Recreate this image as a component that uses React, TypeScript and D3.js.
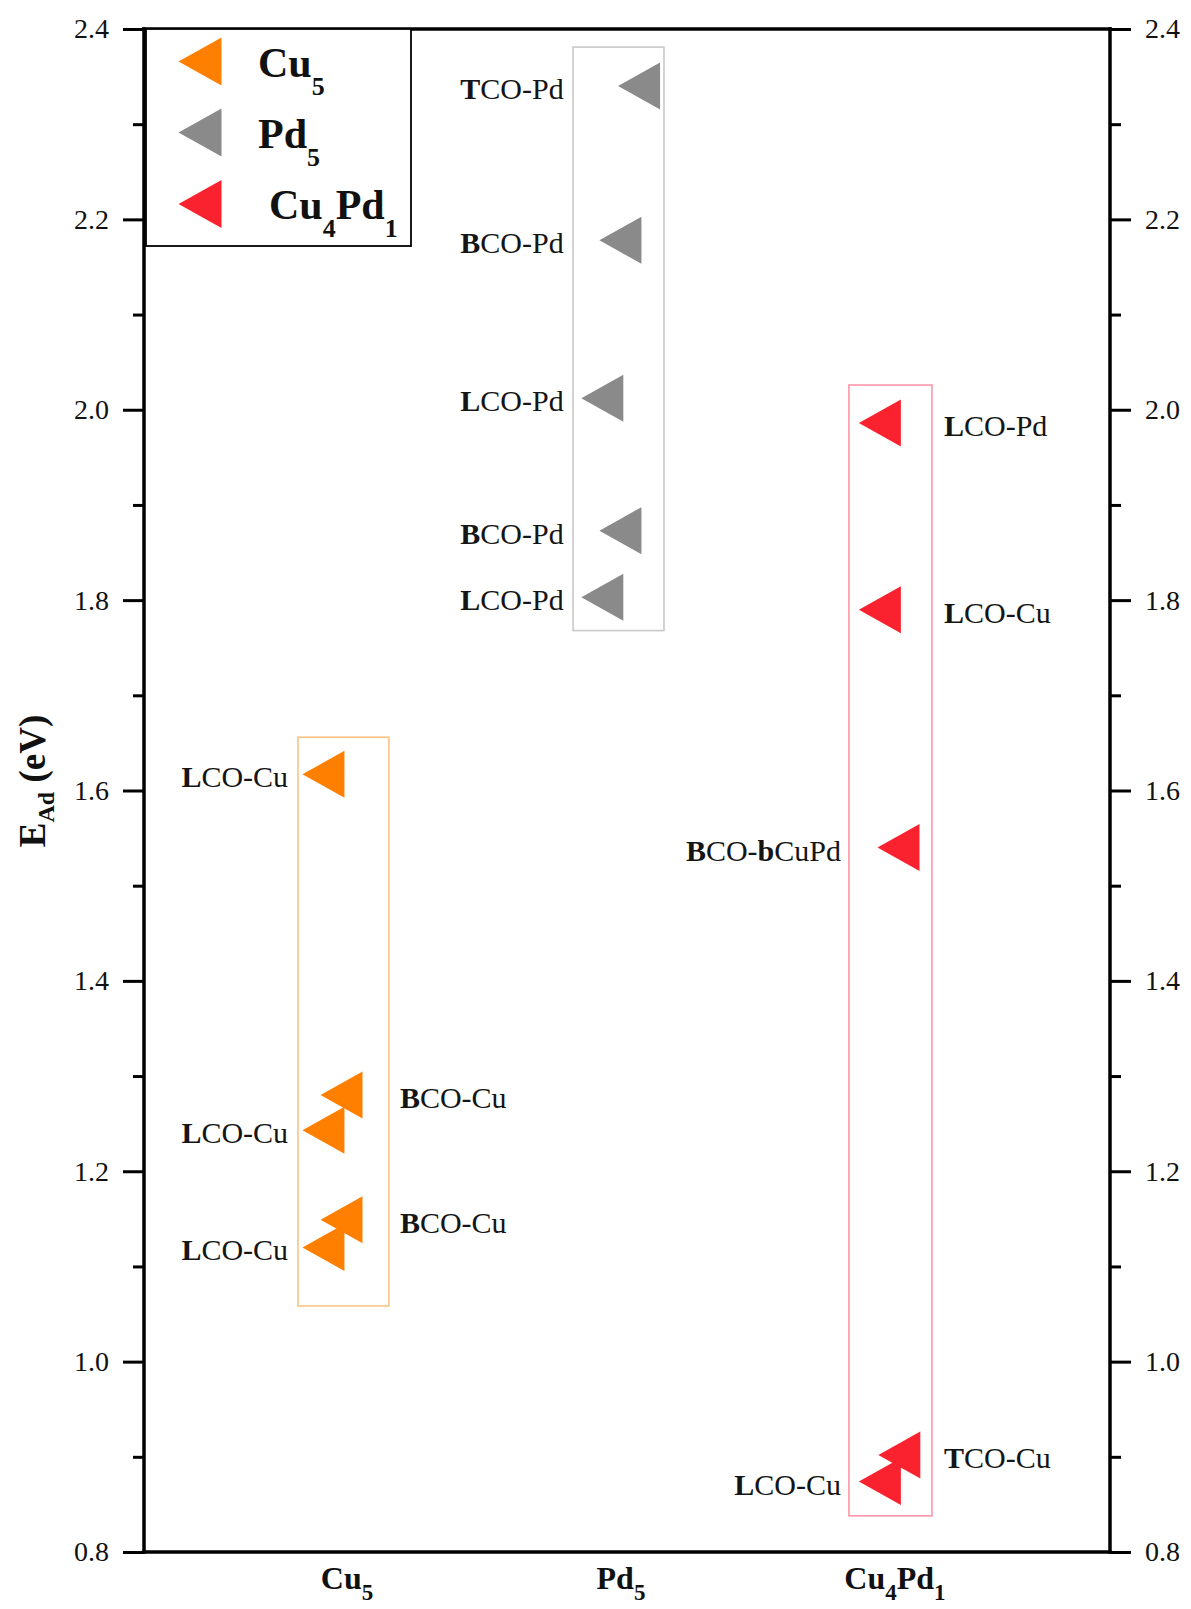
import React, { useEffect, useRef } from "react";
import * as d3 from "d3";

// ---- data ----
const categories = ["Cu5", "Pd5", "Cu4Pd1"];
const categoryPos = [1, 2, 3];
const majorTicks = [0.8, 1.0, 1.2, 1.4, 1.6, 1.8, 2.0, 2.2, 2.4];
const minorTicks = [0.9, 1.1, 1.3, 1.5, 1.7, 1.9, 2.1, 2.3];

const cu5Values = [1.617, 1.28, 1.243, 1.149, 1.12];
const cu5X = [0.914, 0.98, 0.914, 0.98, 0.914];
const cu5Labels = ["LCO-Cu", "BCO-Cu", "LCO-Cu", "BCO-Cu", "LCO-Cu"];
const cu5Sides = ["left", "right", "left", "right", "left"];

const pd5Values = [2.34, 2.178, 2.012, 1.873, 1.803];
const pd5X = [2.066, 1.998, 1.932, 1.998, 1.932];
const pd5Labels = ["TCO-Pd", "BCO-Pd", "LCO-Pd", "BCO-Pd", "LCO-Pd"];
const pd5Sides = ["left", "left", "left", "left", "left"];

const cu4pd1Values = [1.986, 1.79, 1.54, 0.902, 0.874];
const cu4pd1X = [2.945, 2.945, 3.013, 3.016, 2.945];
const cu4pd1Labels = ["LCO-Pd", "LCO-Cu", "BCO-bCuPd", "TCO-Cu", "LCO-Cu"];
const cu4pd1Sides = ["right", "right", "left", "right", "left"];

// label anchor positions (data x) per series: [left, right]
const cu5LabelX = [0.785, 1.193];
const pd5LabelX = [1.791, 2.2];
const cu4pd1LabelX = [2.803, 3.179];

// group boxes: [x0, x1, yTop, yBottom] in data units
const cu5Box = [0.821, 1.153, 1.656, 1.0585];
const pd5Box = [1.825, 2.157, 2.381, 1.768];
const cu4pd1Box = [2.832, 3.135, 2.026, 0.838];

const W = 1191;
const H = 1609;
const FONT = "'Liberation Serif', 'Times New Roman', Times, serif";

const x = d3.scaleLinear().domain([0.259, 3.785]).range([144, 1110]);
const y = d3.scaleLinear().domain([0.8, 2.4]).range([1552, 29]);

const series = [
  { name: "Cu5", color: "#FF8000", box: "#F9C486", values: cu5Values, xs: cu5X, labels: cu5Labels, sides: cu5Sides, labelX: cu5LabelX, rect: cu5Box },
  { name: "Pd5", color: "#8A8A8A", box: "#C9C9C9", values: pd5Values, xs: pd5X, labels: pd5Labels, sides: pd5Sides, labelX: pd5LabelX, rect: pd5Box },
  { name: "Cu4Pd1", color: "#F9222E", box: "#FF97A8", values: cu4pd1Values, xs: cu4pd1X, labels: cu4pd1Labels, sides: cu4pd1Sides, labelX: cu4pd1LabelX, rect: cu4pd1Box },
];

const TW = 42;
const TH = 47;
function tri(cx: number, cy: number, w = TW, h = TH) {
  const p = d3.path();
  p.moveTo(cx - w / 2, cy);
  p.lineTo(cx + w / 2, cy - h / 2);
  p.lineTo(cx + w / 2, cy + h / 2);
  p.closePath();
  return p.toString();
}

function LabelText({ text }: { text: string }) {
  // first letter bold, and a lowercase 'b' after '-' bold
  const parts: { t: string; b: boolean }[] = [];
  for (let i = 0; i < text.length; i++) {
    const ch = text[i];
    const bold = i === 0 || (ch === "b" && text[i - 1] === "-");
    if (parts.length && parts[parts.length - 1].b === bold) parts[parts.length - 1].t += ch;
    else parts.push({ t: ch, b: bold });
  }
  return (
    <>
      {parts.map((p, i) => (
        <tspan key={i} fontWeight={p.b ? "bold" : "normal"}>
          {p.t}
        </tspan>
      ))}
    </>
  );
}

function SubName({ name, size, sub, shift }: { name: string; size: number; sub: number; shift: number }) {
  const tokens = name.match(/[A-Za-z]+|\d+/g) || [];
  let down = false;
  return (
    <>
      {tokens.map((t, i) => {
        const isNum = /\d/.test(t);
        let dy = 0;
        if (isNum && !down) {
          dy = shift;
          down = true;
        } else if (!isNum && down) {
          dy = -shift;
          down = false;
        }
        return (
          <tspan key={i} fontSize={isNum ? sub : size} dy={dy}>
            {t}
          </tspan>
        );
      })}
    </>
  );
}

export default function App() {
  const leftRef = useRef<SVGGElement>(null);
  const rightRef = useRef<SVGGElement>(null);
  const leftMinorRef = useRef<SVGGElement>(null);
  const rightMinorRef = useRef<SVGGElement>(null);

  useEffect(() => {
    const style = (g: any) => {
      g.attr("font-family", FONT);
      g.select(".domain").remove();
      g.selectAll("line").attr("stroke", "#000").attr("stroke-width", 3);
      g.selectAll("text").attr("font-family", FONT).attr("font-size", 28).attr("fill", "#111");
    };
    const fmt = d3.format(".1f");
    d3.select(leftRef.current).call(d3.axisLeft(y).tickValues(majorTicks).tickSize(21).tickPadding(14).tickFormat(fmt as any)).call(style);
    d3.select(rightRef.current).call(d3.axisRight(y).tickValues(majorTicks).tickSize(21).tickPadding(14).tickFormat(fmt as any)).call(style);
    d3.select(leftMinorRef.current).call(d3.axisLeft(y).tickValues(minorTicks).tickSize(11).tickFormat(() => "")).call(style);
    d3.select(rightMinorRef.current).call(d3.axisRight(y).tickValues(minorTicks).tickSize(11).tickFormat(() => "")).call(style);
  }, []);

  const [x0, x1] = x.range();
  const [yb, yt] = y.range();

  return (
    <svg width={W} height={H} style={{ position: "absolute", left: 0, top: 0, background: "#fff" }} fontFamily={FONT}>
      <rect width={W} height={H} fill="#fff" />
      {series.map((s) => (
        <rect
          key={"box" + s.name}
          x={x(s.rect[0])}
          y={y(s.rect[2])}
          width={x(s.rect[1]) - x(s.rect[0])}
          height={y(s.rect[3]) - y(s.rect[2])}
          fill="none"
          stroke={s.box}
          strokeWidth={1.6}
        />
      ))}
      {series.map((s) =>
        s.values.map((v, i) => <path key={s.name + "m" + i} d={tri(x(s.xs[i]), y(v))} fill={s.color} />)
      )}
      {series.map((s) =>
        s.values.map((v, i) => {
          const left = s.sides[i] === "left";
          return (
            <text
              key={s.name + "l" + i}
              x={x(left ? s.labelX[0] : s.labelX[1])}
              y={y(v) + 2}
              textAnchor={left ? "end" : "start"}
              dominantBaseline="central"
              fontSize={30}
              fill="#151515"
            >
              <LabelText text={s.labels[i]} />
            </text>
          );
        })
      )}
      <g stroke="#000" strokeWidth={3.5} fill="none" strokeLinecap="square">
        <line x1={x0} x2={x1} y1={yt} y2={yt} />
        <line x1={x0} x2={x1} y1={yb} y2={yb} />
        <line x1={x0} x2={x0} y1={yt} y2={yb} />
        <line x1={x1} x2={x1} y1={yt} y2={yb} />
      </g>
      <g ref={leftRef} transform={`translate(${x0},0)`} />
      <g ref={leftMinorRef} transform={`translate(${x0},0)`} />
      <g ref={rightRef} transform={`translate(${x1},0)`} />
      <g ref={rightMinorRef} transform={`translate(${x1},0)`} />
      {categories.map((c, i) => (
        <text key={c} x={x(categoryPos[i])} y={1589} textAnchor="middle" fontWeight="bold" fontSize={32} fill="#111">
          <SubName name={c} size={32} sub={23} shift={11} />
        </text>
      ))}
      <text transform="translate(45,781) rotate(-90)" textAnchor="middle" fontWeight="bold" fontSize={37} fill="#111">
        <tspan>E</tspan>
        <tspan fontSize={24} dy={9}>Ad</tspan>
        <tspan dy={-9}> (eV)</tspan>
      </text>
      <rect x={146} y={29} width={265} height={217} fill="#fff" stroke="#000" strokeWidth={1.8} />
      {series.map((s, i) => {
        const cy = [61.5, 132.5, 204][i];
        const tx = [258, 258, 269][i];
        return (
          <g key={"leg" + s.name}>
            <path d={tri(200, cy, 43, 48)} fill={s.color} />
            <text x={tx} y={cy + 15} fontWeight="bold" fontSize={42} fill="#111">
              <SubName name={s.name} size={42} sub={26} shift={18} />
            </text>
          </g>
        );
      })}
    </svg>
  );
}
